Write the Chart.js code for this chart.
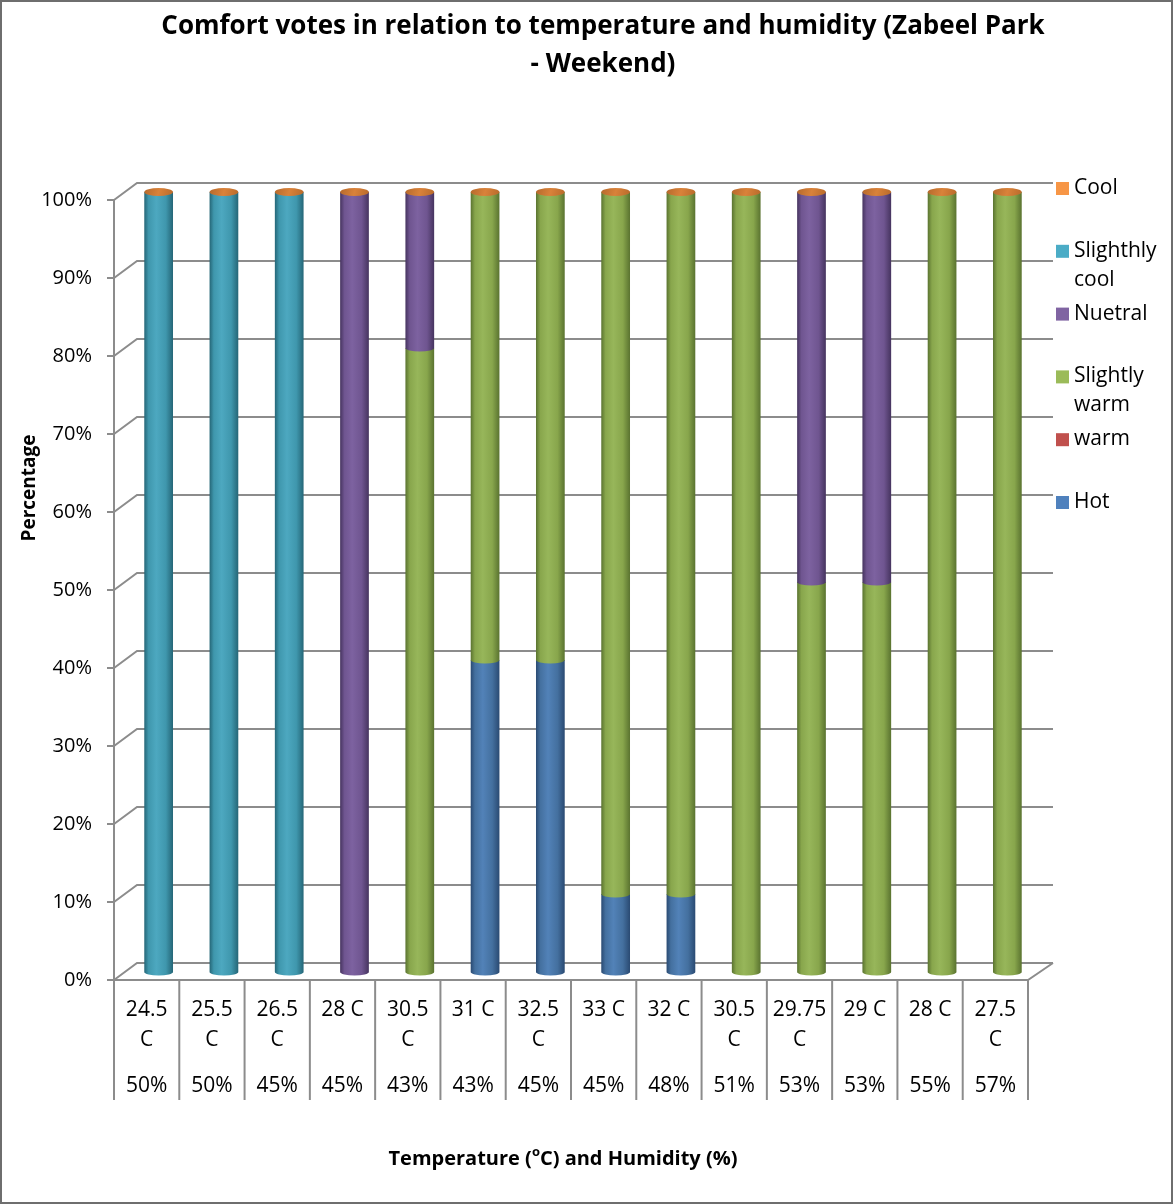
<!DOCTYPE html>
<html>
<head>
<meta charset="utf-8">
<script src="https://cdn.jsdelivr.net/npm/chart.js@4/dist/chart.umd.min.js"></script>
<style>
  html, body { margin: 0; padding: 0; background: #fff; }
  #wrap { width: 1173px; height: 1204px; }
</style>
</head>
<body>
<div id="wrap"><canvas id="c" width="1173" height="1204"></canvas></div>
<script>
// ---- Data ----
const temperatures = ['24.5 C','25.5 C','26.5 C','28 C','30.5 C','31 C','32.5 C','33 C','32 C','30.5 C','29.75 C','29 C','28 C','27.5 C'];
const humidities   = ['50%','50%','45%','45%','43%','43%','45%','45%','48%','51%','53%','53%','55%','57%'];
const hot          = [0,0,0,0,0,40,40,10,10,0,0,0,0,0];
const warm         = [0,0,0,0,0,0,0,0,0,0,0,0,0,0];
const slightlyWarm = [0,0,0,0,80,60,60,90,90,100,50,50,100,100];
const neutral      = [0,0,0,100,20,0,0,0,0,0,50,50,0,0];
const slightlyCool = [100,100,100,0,0,0,0,0,0,0,0,0,0,0];
const cool         = [0,0,0,0,0,0,0,0,0,0,0,0,0,0];
const seriesNames  = ['Hot','warm','Slightly warm','Nuetral','Slighthly cool','Cool'];
const yTickValues  = [0,10,20,30,40,50,60,70,80,90,100];
const chartTitle   = ['Comfort votes in relation to temperature and humidity (Zabeel Park', '- Weekend)'];
const yTitle = 'Percentage';

// ---- Styles ----
const palette = {
  'Hot':            {legend:'#4f81bd', base:'#44709f', dark:'#2a4a72', light:'#5282b8'},
  'warm':           {legend:'#c0504d', base:'#b04a47', dark:'#7f302e', light:'#c85a57'},
  'Slightly warm':  {legend:'#9bbb59', base:'#88a64c', dark:'#5a7330', light:'#97b65a'},
  'Nuetral':        {legend:'#8064a2', base:'#6f5590', dark:'#46345f', light:'#7d62a0'},
  'Slighthly cool': {legend:'#4bacc6', base:'#3f97ad', dark:'#256677', light:'#4da8c0'},
  'Cool':           {legend:'#f79646', base:'#e08a3c', dark:'#a85f22', light:'#f09a4c'}
};
const FONT = '"Open Sans", "DejaVu Sans", sans-serif';
const GRID = '#8c8c8c';
const BAR_PCT = 0.44;

function gradFor(chart, idx, name) {
  const p = palette[name];
  const area = chart.chartArea;
  if (!area) return p.base;
  const xs = chart.scales.x;
  const cx = xs.getPixelForValue(idx);
  const w = (xs.width / temperatures.length) * BAR_PCT;
  const g = chart.ctx.createLinearGradient(cx - w/2, 0, cx + w/2, 0);
  g.addColorStop(0, p.dark);
  g.addColorStop(0.15, p.base);
  g.addColorStop(0.42, p.light);
  g.addColorStop(0.75, p.base);
  g.addColorStop(1, p.dark);
  return g;
}

const seriesData = [hot, warm, slightlyWarm, neutral, slightlyCool, cool];
const datasets = seriesNames.map((name, k) => ({
  label: name,
  data: seriesData[k],
  backgroundColor: (ctx) => gradFor(ctx.chart, ctx.dataIndex, name),
  borderWidth: 0,
  barPercentage: BAR_PCT,
  categoryPercentage: 1.0
}));

const FRONT_DX = -12, FRONT_DY = 8;
const BACK_DX_L = 11, BACK_DX_R = 13, BACK_DY = -9;

const decor = {
  id: 'decor',
  beforeDatasetsDraw(chart) {
    const ctx = chart.ctx;
    const a = chart.chartArea;
    const ys = chart.scales.y;
    const xs = chart.scales.x;
    ctx.save();
    ctx.strokeStyle = GRID;
    ctx.lineWidth = 2;
    const fl = a.left + FRONT_DX, fr = a.right + FRONT_DX;
    const bl = a.left + BACK_DX_L, br = a.right + BACK_DX_R;
    yTickValues.forEach(v => {
      const yb = ys.getPixelForValue(v);
      const yf = yb + FRONT_DY, yk = yb + BACK_DY;
      ctx.beginPath();
      ctx.moveTo(fl, yf); ctx.lineTo(bl, yk); ctx.lineTo(br, yk);
      ctx.stroke();
      ctx.beginPath();
      ctx.moveTo(fl - 7, yf); ctx.lineTo(fl, yf);
      ctx.stroke();
    });
    const y0 = ys.getPixelForValue(0);
    ctx.beginPath();
    ctx.moveTo(fl, y0 + FRONT_DY); ctx.lineTo(fr, y0 + FRONT_DY); ctx.lineTo(br, y0 + BACK_DY);
    ctx.stroke();
    ctx.beginPath();
    ctx.moveTo(fl, ys.getPixelForValue(100) + FRONT_DY);
    ctx.lineTo(fl, y0 + FRONT_DY);
    ctx.stroke();
    const n = temperatures.length;
    const band = (fr - fl) / n;
    for (let i = 0; i <= n; i++) {
      const x = fl + band * i;
      ctx.beginPath();
      ctx.moveTo(x, y0 + FRONT_DY);
      ctx.lineTo(x, y0 + FRONT_DY + 120);
      ctx.stroke();
    }
    ctx.fillStyle = '#000';
    ctx.font = '20px ' + FONT;
    ctx.textAlign = 'right';
    ctx.textBaseline = 'middle';
    yTickValues.forEach(v => {
      ctx.fillText(v + '%', 92, ys.getPixelForValue(v) + FRONT_DY);
    });
    ctx.textAlign = 'center';
    ctx.font = '21px ' + FONT;
    temperatures.forEach((t, i) => {
      const cx = xs.getPixelForValue(i) + FRONT_DX;
      const parts = t.split(' ');
      if (ctx.measureText(t).width > band - 6) {
        ctx.fillText(parts[0], cx, 1010);
        ctx.fillText(parts[1], cx, 1040);
      } else {
        ctx.fillText(t, cx, 1010);
      }
      ctx.fillText(humidities[i], cx, 1086);
    });
    ctx.restore();
  },
  afterDatasetsDraw(chart) {
    const ctx = chart.ctx;
    const n = temperatures.length;
    ctx.save();
    for (let i = 0; i < n; i++) {
      let topY = null, cx = null, w = null;
      chart.data.datasets.forEach((ds, k) => {
        const el = chart.getDatasetMeta(k).data[i];
        if (!el) return;
        cx = el.x; w = el.width;
        const v = ds.data[i];
        if (!v) return;
        const rx = el.width / 2, ry = 3.5;
        ctx.beginPath();
        ctx.ellipse(el.x, el.base, rx, ry, 0, 0, Math.PI, false);
        ctx.closePath();
        ctx.fillStyle = gradFor(chart, i, ds.label);
        ctx.fill();
        topY = el.y;
      });
      if (topY !== null) {
        const rx = w / 2, ry = 4;
        const g = ctx.createLinearGradient(cx - rx, topY - ry, cx + rx, topY + ry);
        g.addColorStop(0, '#b5692c');
        g.addColorStop(0.5, '#d9823a');
        g.addColorStop(1, '#b86a2a');
        ctx.beginPath();
        ctx.ellipse(cx, topY, rx, ry, 0, 0, Math.PI * 2);
        ctx.fillStyle = g;
        ctx.fill();
      }
    }
    ctx.restore();
  },
  afterDraw(chart) {
    const ctx = chart.ctx;
    ctx.save();
    ctx.strokeStyle = '#6e6e6e';
    ctx.lineWidth = 2;
    ctx.strokeRect(1, 1, 1171, 1202);
    ctx.fillStyle = '#000';
    ctx.textAlign = 'center';
    ctx.textBaseline = 'middle';
    ctx.font = 'bold 26px ' + FONT;
    ctx.fillText(chartTitle[0], 603, 27);
    ctx.fillText(chartTitle[1], 603, 65);
    ctx.save();
    ctx.translate(30, 488);
    ctx.rotate(-Math.PI / 2);
    ctx.font = 'bold 19px ' + FONT;
    ctx.fillText(yTitle, 0, 0);
    ctx.restore();
    const p1 = 'Temperature (', p2 = 'o', p3 = 'C) and Humidity (%)';
    const fMain = 'bold 20px ' + FONT, fSup = 'bold 13px ' + FONT;
    ctx.font = fMain; const w1 = ctx.measureText(p1).width, w3 = ctx.measureText(p3).width;
    ctx.font = fSup; const w2 = ctx.measureText(p2).width;
    let x = 563 - (w1 + w2 + w3) / 2;
    ctx.textAlign = 'left';
    ctx.font = fMain; ctx.fillText(p1, x, 1159); x += w1;
    ctx.font = fSup; ctx.fillText(p2, x, 1152); x += w2;
    ctx.font = fMain; ctx.fillText(p3, x, 1159);
    ctx.font = '21px ' + FONT;
    const order = chart.data.datasets.slice().reverse();
    order.forEach((ds, j) => {
      const y = 188 + j * 62.8;
      ctx.fillStyle = palette[ds.label].legend;
      ctx.fillRect(1056, y - 6, 13, 13);
      ctx.fillStyle = '#000';
      let lines = [ds.label];
      if (ctx.measureText(ds.label).width > 95) lines = ds.label.split(' ');
      lines.forEach((ln, q) => ctx.fillText(ln, 1074, y + q * 29));
    });
    ctx.restore();
  }
};

new Chart(document.getElementById('c'), {
  type: 'bar',
  data: { labels: temperatures, datasets },
  options: {
    responsive: false,
    devicePixelRatio: 1,
    animation: false,
    layout: { padding: { left: 126, right: 133, top: 192, bottom: 232 } },
    plugins: { legend: { display: false }, title: { display: false }, tooltip: { enabled: false } },
    scales: {
      x: { stacked: true, display: false, grid: { display: false } },
      y: { stacked: true, display: false, min: 0, max: 100, ticks: { stepSize: 10 }, grid: { display: false } }
    }
  },
  plugins: [decor]
});
</script>
</body>
</html>
